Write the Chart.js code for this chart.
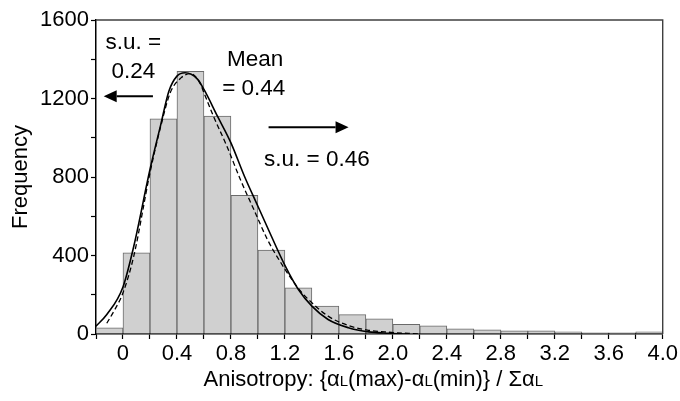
<!DOCTYPE html>
<html>
<head>
<meta charset="utf-8">
<script src="https://cdn.jsdelivr.net/npm/chart.js@4.4.1/dist/chart.umd.min.js"></script>
<style>
  html, body { margin: 0; padding: 0; background: #ffffff; }
  #wrap { width: 680px; height: 401px; }
</style>
</head>
<body>
<div id="wrap"><canvas id="c" width="680" height="401"></canvas></div>
<script>
// ---- Data ----
const binCenters = [-0.1, 0.1, 0.3, 0.5, 0.7, 0.9, 1.1, 1.3, 1.5, 1.7, 1.9, 2.1, 2.3, 2.5, 2.7, 2.9, 3.1, 3.3, 3.5, 3.7, 3.9];
const frequency  = [31, 414, 1096, 1339, 1110, 706, 427, 235, 142, 99, 77, 49, 42, 26, 21, 16, 16, 11, 6, 6, 11];

const solidFitX = [-0.2, -0.12, 0.0, 0.08, 0.2, 0.28, 0.34, 0.40, 0.46, 0.55, 0.60, 0.70, 0.80, 0.90, 1.00, 1.10, 1.20, 1.30, 1.40, 1.52, 1.67, 1.82, 1.97, 2.1];
const solidFitY = [40, 99, 240, 447, 838, 1067, 1237, 1314, 1331, 1300, 1246, 1110, 974, 804, 651, 498, 350, 227, 142, 74, 32, 11, 4, 0];

const dashedFitX = [-0.12, -0.06, 0.0, 0.08, 0.2, 0.28, 0.35, 0.43, 0.50, 0.57, 0.60, 0.67, 0.77, 0.87, 0.97, 1.07, 1.17, 1.30, 1.40, 1.52, 1.67, 1.82, 1.97, 2.19];
const dashedFitY = [55, 125, 210, 397, 821, 1059, 1229, 1305, 1327, 1280, 1229, 1110, 957, 787, 634, 482, 363, 232, 159, 91, 43, 19, 9, 0];

const xTickValues = [-0.2, 0, 0.2, 0.4, 0.6, 0.8, 1.0, 1.2, 1.4, 1.6, 1.8, 2.0, 2.2, 2.4, 2.6, 2.8, 3.0, 3.2, 3.4, 3.6, 3.8, 4.0];
const xTickLabels = ['', '0', '', '0.4', '', '0.8', '', '1.2', '', '1.6', '', '2.0', '', '2.4', '', '2.8', '', '3.2', '', '3.6', '', '4.0'];
const yTickValues = [0, 200, 400, 600, 800, 1000, 1200, 1400, 1600];
const yTickLabels = ['0', '', '400', '', '800', '', '1200', '', '1600'];

const yTitle = 'Frequency';
const xTitleParts = [
  ['Anisotropy: {\u03B1', false], ['L', true], ['(max)-\u03B1', false], ['L', true],
  ['(min)} / \u03A3\u03B1', false], ['L', true]
];

// annotation texts (positions are given in data coordinates)
const notes = [
  { text: 's.u. =', x: -0.13, y: 1450 },
  { text: '0.24', x: -0.085, y: 1305 },
  { text: 'Mean', x: 0.77, y: 1365 },
  { text: '= 0.44', x: 0.735, y: 1220 },
  { text: 's.u. = 0.46', x: 1.045, y: 855 }
];
const arrows = [
  { x1: 0.222, x2: -0.143, y: 1212 },
  { x1: 1.079, x2: 1.672, y: 1054 }
];

// ---- Fonts ----
const NARROW = "'Liberation Sans Narrow', 'Arial Narrow', 'Liberation Sans', Arial, sans-serif";
const REG = "'Liberation Sans', Arial, 'DejaVu Sans', sans-serif";

const overlayPlugin = {
  id: 'overlay',
  afterDraw(chart) {
    const ctx = chart.ctx;
    const xs = chart.scales.x, ys = chart.scales.y;
    const a = chart.chartArea;
    ctx.save();
    // frame top/right
    ctx.strokeStyle = '#404040';
    ctx.lineWidth = 1.4;
    ctx.beginPath();
    ctx.moveTo(a.left, a.top);
    ctx.lineTo(a.right, a.top);
    ctx.lineTo(a.right, a.bottom);
    ctx.stroke();

    // notes
    ctx.fillStyle = '#000';
    ctx.font = '22.5px ' + REG;
    ctx.textAlign = 'left';
    ctx.textBaseline = 'alphabetic';
    notes.forEach(n => {
      ctx.fillText(n.text, xs.getPixelForValue(n.x), ys.getPixelForValue(n.y));
    });

    // arrows
    ctx.strokeStyle = '#000';
    ctx.lineWidth = 2;
    arrows.forEach(ar => {
      const px1 = xs.getPixelForValue(ar.x1), px2 = xs.getPixelForValue(ar.x2), py = ys.getPixelForValue(ar.y);
      const dir = px2 > px1 ? 1 : -1;
      const headLen = 13, headHalf = 6;
      ctx.beginPath();
      ctx.moveTo(px1, py);
      ctx.lineTo(px2 - dir * headLen, py);
      ctx.stroke();
      ctx.beginPath();
      ctx.moveTo(px2, py);
      ctx.lineTo(px2 - dir * headLen, py - headHalf);
      ctx.lineTo(px2 - dir * headLen, py + headHalf);
      ctx.closePath();
      ctx.fill();
    });

    // x-axis title with small L
    const big = '22px ' + REG, small = '15px ' + REG;
    let total = 0;
    xTitleParts.forEach(p => { ctx.font = p[1] ? small : big; total += ctx.measureText(p[0]).width; });
    let x = (a.left + a.right) / 2 - 6 - total / 2;
    const yBase = 386;
    xTitleParts.forEach(p => {
      ctx.font = p[1] ? small : big;
      ctx.fillText(p[0], x, yBase);
      x += ctx.measureText(p[0]).width;
    });
    ctx.restore();
  }
};

new Chart(document.getElementById('c'), {
  type: 'bar',
  data: {
    datasets: [
      {
        type: 'line',
        data: solidFitX.map((x, i) => ({ x: x, y: solidFitY[i] })),
        borderColor: '#000000',
        borderWidth: 1.6,
        pointRadius: 0,
        fill: false,
        cubicInterpolationMode: 'monotone',
        order: 1
      },
      {
        type: 'line',
        data: dashedFitX.map((x, i) => ({ x: x, y: dashedFitY[i] })),
        borderColor: '#000000',
        borderWidth: 1.3,
        borderDash: [5, 3],
        pointRadius: 0,
        fill: false,
        cubicInterpolationMode: 'monotone',
        order: 2
      },
      {
        type: 'bar',
        data: binCenters.map((x, i) => ({ x: x, y: frequency[i] })),
        backgroundColor: '#d0d0d0',
        borderColor: '#6a6a6a',
        borderWidth: 1,
        borderSkipped: 'bottom',
        barPercentage: 1,
        categoryPercentage: 1,
        order: 3
      }
    ]
  },
  options: {
    responsive: false,
    animation: false,
    devicePixelRatio: 1,
    layout: { padding: { top: 20, right: 17, left: 0, bottom: 0 } },
    plugins: { legend: { display: false }, tooltip: { enabled: false } },
    scales: {
      x: {
        type: 'linear',
        min: -0.2,
        max: 4.0,
        offset: false,
        afterBuildTicks: s => { s.ticks = xTickValues.map(v => ({ value: v })); },
        afterFit: s => { s.height = 67; },
        grid: { display: true, drawOnChartArea: false, drawTicks: true, tickLength: 5, tickColor: '#000', tickWidth: 1.2, offset: false },
        border: { display: true, color: '#000', width: 1.5 },
        ticks: {
          autoSkip: false,
          maxRotation: 0,
          padding: 2,
          color: '#000',
          font: { family: NARROW, size: 22 },
          callback: (v, i) => xTickLabels[i]
        }
      },
      y: {
        min: 0,
        max: 1600,
        afterBuildTicks: s => { s.ticks = yTickValues.map(v => ({ value: v })); },
        afterFit: s => { s.width = 96; },
        grid: { display: true, drawOnChartArea: false, drawTicks: true, tickLength: 5, tickColor: '#000', tickWidth: 1.2 },
        border: { display: true, color: '#000', width: 1.5 },
        ticks: {
          autoSkip: false,
          padding: 2,
          color: '#000',
          font: { family: NARROW, size: 22 },
          callback: (v, i) => yTickLabels[i]
        },
        title: {
          display: true,
          text: yTitle,
          color: '#000',
          font: { family: REG, size: 22 },
          padding: { top: 8, bottom: 0 }
        }
      }
    }
  },
  plugins: [overlayPlugin]
});
</script>
</body>
</html>
